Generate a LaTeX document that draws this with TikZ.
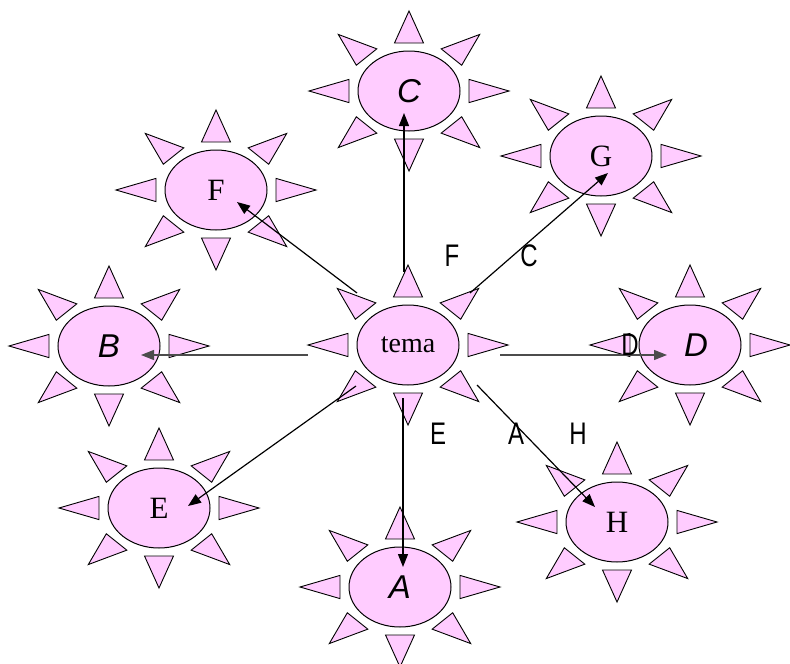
\documentclass[tikz,border=0pt]{standalone}
\usepackage{fontspec}
\setmainfont{Liberation Serif}
\setsansfont{Liberation Sans}
\usetikzlibrary{shapes.geometric,arrows.meta,calc}
\definecolor{sunpink}{RGB}{255,204,255}
\tikzset{
  sunbody/.style={ellipse, draw=black, line width=1pt, fill=sunpink, minimum width=102pt, minimum height=80pt, inner sep=0pt},
  ray/.style={draw=black, line width=0.9pt, fill=sunpink, line join=miter},
  serifl/.style={font=\fontsize{31}{31}\selectfont},
  temal/.style={font=\fontsize{28}{28}\selectfont},
  sansl/.style={font=\fontsize{33}{33}\selectfont\sffamily\itshape},
  edgel/.style={font=\fontsize{24}{24}\selectfont\sffamily, inner sep=0pt},
  arr/.style={draw=black, line width=1.2pt, -{Triangle[length=13pt,width=10pt]}},
  garr/.style={arr, draw=black!70},
}
\newcommand\sunrays[1]{%
  \begin{scope}[shift={(#1)}, yscale=0.8]
    \foreach \a in {0,45,...,315}{
      \draw[ray] (\a:100) -- ($(\a:60)+(\a+90:14.5)$) -- ($(\a:60)+(\a-90:14.5)$) -- cycle;
    }
  \end{scope}}
\begin{document}
\begin{tikzpicture}[x=1pt,y=-1pt]
\useasboundingbox (0,0) rectangle (790,664);
% rays
\sunrays{408,345}
\sunrays{409,91}
\sunrays{216,190}
\sunrays{601,156}
\sunrays{109,346}
\sunrays{690,345}
\sunrays{159,508}
\sunrays{400,587}
\sunrays{617,522}
% bodies
\node[sunbody, temal] (tema) at (408,345) {tema};
\node[sunbody, sansl] (C) at (409,91) {C};
\node[sunbody, serifl] (F) at (216,190) {F};
\node[sunbody, serifl] (G) at (601,156) {G};
\node[sunbody, sansl] (B) at (109,346) {B};
\node[sunbody, sansl] (D) at (690,345) {\hspace*{12pt}D};
\node[sunbody, serifl] (E) at (159,508) {E};
\node[sunbody, sansl] (A) at (400,587) {A};
\node[sunbody, serifl] (H) at (617,522) {H};
% connectors
\draw[arr] ($(tema)+(-4,-73)$) -- ($(C)+(-5,22)$);
\draw[arr] ($(tema)+(-5,53)$) -- ($(A)+(3,-20)$);
\draw[garr] ($(tema)+(-100,10)$) -- ($(B)+(32,9)$);
\draw[garr] ($(tema)+(92,10)$) -- ($(D)+(-23,10)$);
\draw[arr] ($(tema)+(-51,-52)$) -- ($(F)+(21,12)$);
\draw[arr] ($(tema)+(62,-52)$) -- ($(G)+(7,17)$);
\draw[arr] ($(tema)+(-52,41)$) -- ($(E)+(29,-2)$);
\draw[arr] ($(tema)+(69,40)$) -- ($(H)+(-22,-15)$);
% edge labels
\node[edgel] (lF) at (452,256) {\scalebox{1}[1.3]{F}};
\node[edgel] (lC) at (529,256) {\scalebox{1}[1.3]{C}};
\node[edgel] (lD) at (630,345) {\scalebox{1}[1.3]{D}};
\node[edgel] (lE) at (438,434) {\scalebox{1}[1.3]{E}};
\node[edgel] (lA) at (516,434) {\scalebox{1}[1.3]{A}};
\node[edgel] (lH) at (578,434) {\scalebox{1}[1.3]{H}};
\end{tikzpicture}
\end{document}
